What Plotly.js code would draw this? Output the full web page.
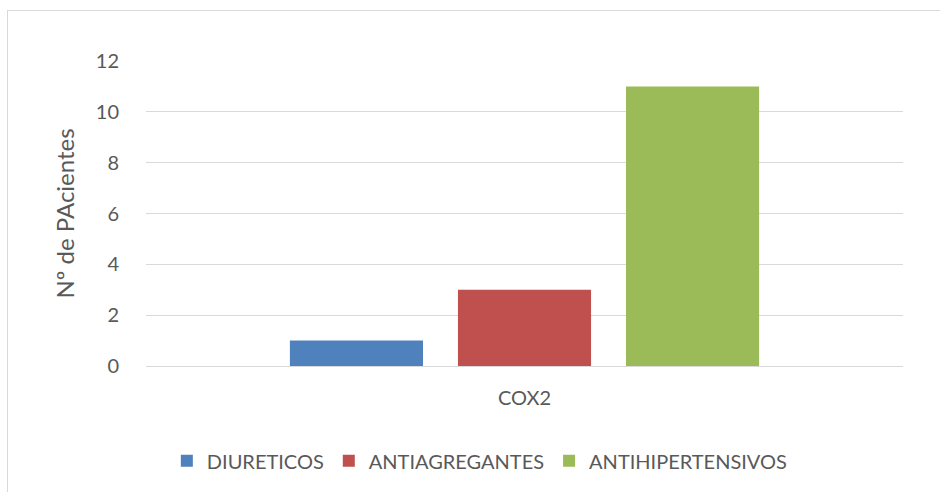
<!DOCTYPE html>
<html>
<head>
<meta charset="utf-8">
<script src="https://cdn.plot.ly/plotly-3.0.1.min.js"></script>
<style>
  html, body { margin: 0; padding: 0; overflow: hidden; background: #ffffff; }
  #wrap { position: relative; width: 940px; height: 492px; }
  #frame { position: absolute; left: 7px; top: 10px; width: 1000px; height: 1000px; border: 1px solid #D9D9D9; box-sizing: border-box; }
  #chart { position: absolute; left: 0; top: 0; width: 940px; height: 492px; }
</style>
</head>
<body>
<div id="wrap">
  <div id="frame"></div>
  <div id="chart"></div>
</div>
<script>
const categories = ["COX2"];
const seriesNames = ["DIURETICOS", "ANTIAGREGANTES", "ANTIHIPERTENSIVOS"];
const diureticos = [1];
const antiagregantes = [3];
const antihipertensivos = [11];
const yTicks = [0, 2, 4, 6, 8, 10, 12];
const colors = ["#4F81BD", "#C0504D", "#9BBB59"];

const values = [diureticos, antiagregantes, antihipertensivos];
const font = "Lato, 'Open Sans', sans-serif";
const textColor = "#595959";

const data = seriesNames.map((name, i) => ({
  type: "bar",
  name: name,
  x: categories,
  y: values[i],
  marker: { color: colors[i] },
  hoverinfo: "none"
}));

const layout = {
  width: 940,
  height: 492,
  margin: { l: 146, r: 37, t: 61, b: 126 },
  paper_bgcolor: "rgba(0,0,0,0)",
  plot_bgcolor: "rgba(0,0,0,0)",
  barmode: "group",
  bargap: 0.334,
  bargroupgap: 0.208,
  font: { family: font, color: textColor, size: 20 },
  showlegend: true,
  legend: {
    orientation: "h",
    x: 0.441,
    xanchor: "center",
    y: -0.311,
    yanchor: "middle",
    font: { family: font, color: textColor, size: 20 },
    itemwidth: 30,
    traceorder: "normal"
  },
  xaxis: {
    type: "category",
    showgrid: false,
    showline: true,
    linecolor: "#D9D9D9",
    linewidth: 1,
    ticks: "outside",
    ticklen: 14,
    tickcolor: "rgba(0,0,0,0)",
    tickfont: { family: font, color: textColor, size: 20 },
    zeroline: false,
    fixedrange: true
  },
  yaxis: {
    range: [0, 12],
    tickvals: yTicks,
    ticktext: yTicks.map(String),
    showgrid: true,
    gridcolor: "#D9D9D9",
    gridwidth: 1,
    zeroline: false,
    showline: false,
    ticks: "outside",
    ticklen: 22,
    tickcolor: "rgba(0,0,0,0)",
    tickfont: { family: font, color: textColor, size: 20 },
    title: { text: "Nº de PAcientes", font: { family: font, color: textColor, size: 24 }, standoff: 14 },
    automargin: false,
    fixedrange: true
  }
};

Plotly.newPlot("chart", data, layout, { displayModeBar: false, staticPlot: true });
</script>
</body>
</html>
